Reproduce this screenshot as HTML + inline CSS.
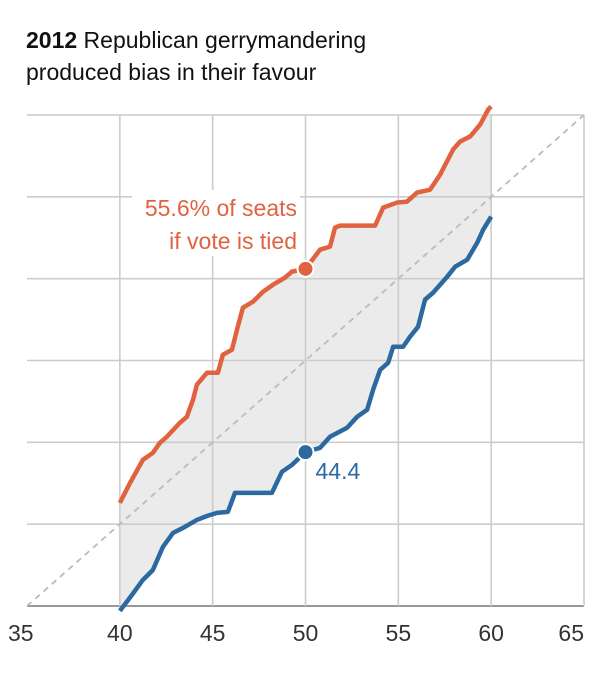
<!DOCTYPE html>
<html><head><meta charset="utf-8"><style>
body{margin:0;background:#fff;font-family:"Liberation Sans",sans-serif;}
svg text{font-family:"Liberation Sans",sans-serif;}
</style></head><body>
<svg width="608" height="686">
<text x="26" y="48" font-size="23" fill="#111"><tspan font-weight="bold">2012</tspan> Republican gerrymandering</text>
<text x="26" y="80" font-size="23" fill="#111">produced bias in their favour</text>
<g id="grid"></g>
<g id="marks"></g>
</svg>
<script>
const xTicks=[35,40,45,50,55,60,65];
const yTicks=[35,40,45,50,55,60,65];
const redVote=[40,40.54,41.24,41.78,42.16,42.53,43.23,43.61,43.94,44.15,44.69,45.28,45.55,46.04,46.31,46.63,47.17,47.71,48.25,48.89,49.27,50,50.78,51.32,51.59,51.86,53.75,54.18,54.93,55.47,56.01,56.71,57.25,57.95,58.33,58.87,59.41,59.84,60];
const redSeats=[41.3,42.5,43.93,44.36,44.97,45.34,46.19,46.56,47.6,48.52,49.25,49.25,50.35,50.66,51.88,53.23,53.59,54.2,54.63,55.06,55.43,55.6,56.77,56.96,58.12,58.24,58.24,59.34,59.65,59.71,60.26,60.44,61.36,62.89,63.38,63.69,64.42,65.34,65.52];
const blueVote=[40,40.65,41.24,41.78,42.32,42.86,43.4,44.15,44.69,45.23,45.82,46.2,48.19,48.73,49.27,50,50.78,51.32,52.24,52.78,53.32,53.64,54.02,54.45,54.72,55.26,55.63,56.06,56.44,56.87,57.63,58.06,58.71,59.25,59.57,60];
const blueSeats=[34.7,35.67,36.59,37.2,38.61,39.46,39.77,40.26,40.5,40.69,40.75,41.91,41.91,43.2,43.62,44.4,44.66,45.34,45.89,46.56,46.99,48.21,49.43,49.86,50.84,50.84,51.45,52.06,53.72,54.14,55.12,55.73,56.16,57.2,57.99,58.79];
const redLabel=55.6, blueLabel=44.4, tiedVote=50;

const X0=27,X1=584,Y0=606,Y1=115;
const sx=v=>X0+(v-35)/30*(X1-X0);
const sy=v=>Y0-(v-35)/30*(Y0-Y1);
const NS="http://www.w3.org/2000/svg";
function mk(tag,attrs,parent){const e=document.createElementNS(NS,tag);for(const k in attrs)e.setAttribute(k,attrs[k]);parent.appendChild(e);return e;}
const grid=document.getElementById('grid'), marks=document.getElementById('marks');

let d='M'+redVote.map((v,i)=>sx(v)+','+sy(redSeats[i])).join('L');
for(let i=blueVote.length-1;i>=0;i--) d+='L'+sx(blueVote[i])+','+sy(blueSeats[i]);
const area=mk('path',{d:d+'Z',fill:'#ebebeb'},grid);



yTicks.forEach((t,i)=>{
  const l=mk('line',{x1:X0,x2:X1,y1:sy(t),y2:sy(t),stroke:i==0?'#999':'#ccc','stroke-width':i==0?2:1.6},grid);
  
  
});
xTicks.forEach((t,i)=>{
  if(i>0){
    const l=mk('line',{x1:sx(t),x2:sx(t),y1:Y1,y2:Y0,stroke:'#ccc','stroke-width':1.6},grid);
    
    
  }
  let x=sx(t),anchor='middle';
  if(i==0){x=8;anchor='start';}
  if(i==xTicks.length-1){x=X1;anchor='end';}
  const tx=mk('text',{x:x,y:641,'font-size':23,fill:'#333','text-anchor':anchor},grid);
  tx.textContent=t;
  
  
});
const diag=mk('line',{x1:sx(35),y1:sy(35),x2:sx(65),y2:sy(65),stroke:'#bbb','stroke-width':1.8,'stroke-dasharray':'6,5'},grid);



function line(vs,ss,color,name){
  const p=mk('polyline',{points:vs.map((v,i)=>sx(v)+','+sy(ss[i])).join(' '),fill:'none',stroke:color,'stroke-width':4.5,'stroke-linejoin':'round'},marks);
  
  
}
line(redVote,redSeats,'#e0623f','republican-line');
line(blueVote,blueSeats,'#2c69a0','democrat-line');

const rd=mk('circle',{cx:sx(tiedVote),cy:sy(redLabel),r:8,fill:'#e0623f',stroke:'#fff','stroke-width':2},marks);


const bd=mk('circle',{cx:sx(tiedVote),cy:sy(blueLabel),r:8,fill:'#2c69a0',stroke:'#fff','stroke-width':2},marks);



const bg=mk('rect',{x:132,y:190,width:168,height:66,fill:'#fff'},marks);


const a1=mk('text',{x:297,y:216,'font-size':23,fill:'#e0623f','text-anchor':'end'},marks);
a1.textContent=redLabel+'% of seats';


const a2=mk('text',{x:297,y:249,'font-size':23,fill:'#e0623f','text-anchor':'end'},marks);
a2.textContent='if vote is tied';


const a3=mk('text',{x:sx(tiedVote)+10,y:sy(blueLabel)+27,'font-size':23,fill:'#2c69a0'},marks);
a3.textContent=blueLabel;


</script>
</body></html>
